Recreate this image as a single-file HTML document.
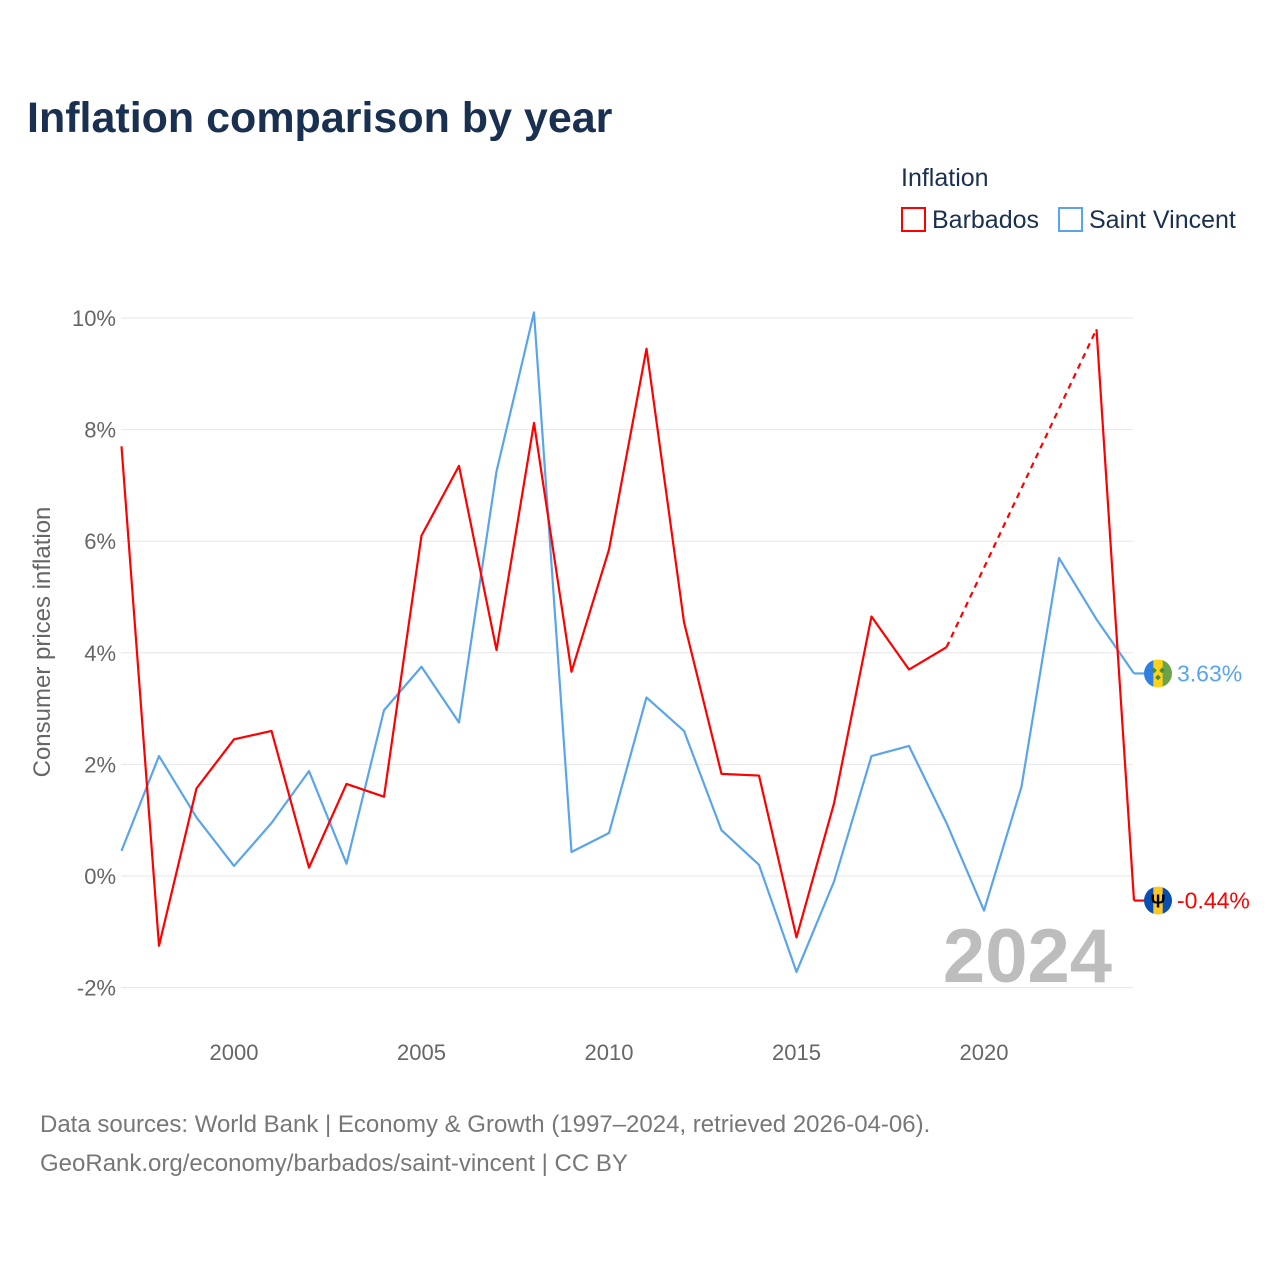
<!DOCTYPE html>
<html><head><meta charset="utf-8"><style>
body{margin:0;background:#fff;font-family:"Liberation Sans",sans-serif;}
#wrap{position:relative;width:1280px;height:1280px;overflow:hidden;}
</style></head><body>
<div id="wrap">
<svg id="svg" width="1280" height="1280" xmlns="http://www.w3.org/2000/svg">
<text x="27" y="132" font-size="43" font-weight="bold" fill="#1a3050">Inflation comparison by year</text>
<text x="901" y="186" font-size="25" fill="#1a3050">Inflation</text>
<g><rect x="902" y="208" width="23" height="23" fill="none" stroke="#f00" stroke-width="2"/><text x="932" y="228" font-size="25" fill="#1a3050">Barbados</text></g>
<g><rect x="1059" y="208" width="23" height="23" fill="none" stroke="#5aa5ea" stroke-width="2"/><text x="1089" y="228" font-size="25" fill="#1a3050">Saint Vincent</text></g>
<g id="grid"></g>
<g id="yticks"></g>
<g id="xticks"></g>
<text transform="translate(50,642) rotate(-90)" text-anchor="middle" font-size="24" fill="#666">Consumer prices inflation</text>
<text x="1112" y="982" text-anchor="end" font-size="76" font-weight="bold" fill="#bdbdbd">2024</text>
<g id="series"></g>
<g id="ends"></g>
<text x="40" y="1132" font-size="24" fill="#777">Data sources: World Bank | Economy &amp; Growth (1997–2024, retrieved 2026-04-06).</text>
<text x="40" y="1171" font-size="24" fill="#777">GeoRank.org/economy/barbados/saint-vincent | CC BY</text>
</svg></div>
<script>
const years=[1997,1998,1999,2000,2001,2002,2003,2004,2005,2006,2007,2008,2009,2010,2011,2012,2013,2014,2015,2016,2017,2018,2019,2020,2021,2022,2023,2024];
const barbados=[7.7,-1.25,1.57,2.45,2.6,0.15,1.65,1.42,6.1,7.35,4.05,8.12,3.66,5.85,9.45,4.55,1.83,1.8,-1.1,1.3,4.65,3.7,4.1,null,null,null,9.8,-0.44];
const saintVincent=[0.45,2.15,1.05,0.18,0.95,1.88,0.22,2.97,3.75,2.75,7.25,10.1,0.43,0.77,3.2,2.6,0.82,0.2,-1.72,-0.1,2.15,2.33,0.95,-0.62,1.6,5.7,4.6,3.63];
const yTicks=[-2,0,2,4,6,8,10];
const xTicks=[2000,2005,2010,2015,2020];
const NS="http://www.w3.org/2000/svg";
const X=y=>121.5+(y-1997)*37.5, Y=v=>876-v*55.8;
function mk(t,a,p){const e=document.createElementNS(NS,t);for(const k in a)e.setAttribute(k,a[k]);p.appendChild(e);return e;}
const grid=document.getElementById('grid'),yt=document.getElementById('yticks'),xt=document.getElementById('xticks');
yTicks.forEach(v=>{
 const l=mk('line',{x1:121,x2:1133,y1:Y(v),y2:Y(v),stroke:'#e6e6e6','stroke-width':1},grid);
 
 
 const t=mk('text',{x:116,y:Y(v)+8,'text-anchor':'end','font-size':22,fill:'#666'},yt);t.textContent=v+'%';
 
 
});
xTicks.forEach(v=>{
 const t=mk('text',{x:X(v),y:1060,'text-anchor':'middle','font-size':22,fill:'#666'},xt);t.textContent=v;
 
 
});
const sg=document.getElementById('series');
function draw(vals,color,name){
 let segs=[],cur=[];
 vals.forEach((v,i)=>{if(v===null){if(cur.length)segs.push(cur);cur=[];}else cur.push([X(years[i]),Y(v)]);});
 if(cur.length)segs.push(cur);
 segs.forEach((s,k)=>{
  const p=mk('polyline',{points:s.map(q=>q.join(',')).join(' '),fill:'none',stroke:color,'stroke-width':2.2,'stroke-linejoin':'round'},sg);
  
  
  if(k>0){const a=segs[k-1][segs[k-1].length-1],b=s[0];
   const d=mk('line',{x1:a[0],y1:a[1],x2:b[0],y2:b[1],stroke:color,'stroke-width':2.2,'stroke-dasharray':'6,5'},sg);
   
   }
 });
}
draw(saintVincent,'#5aa5ea','saint-vincent');
draw(barbados,'#f00','barbados');
const eg=document.getElementById('ends');
function end(v,color,name,flag){
 const y=Y(v),x=X(2024);
 const l=mk('line',{x1:x,x2:1146,y1:y,y2:y,stroke:color,'stroke-width':2.2},eg);
 
 
 const g=mk('g',{},eg);
 
 
 mk('clipPath',{id:'c'+name},g).appendChild(document.createElementNS(NS,'circle'));
 const c=g.querySelector('circle');c.setAttribute('cx',1158);c.setAttribute('cy',y);c.setAttribute('r',14);
 const cols=flag;
 cols.forEach((col,i)=>mk('rect',{x:1144+i*9.33,y:y-14,width:9.5,height:28,fill:col,'clip-path':'url(#c'+name+')'},g));
 if(name==='barbados'){const t=mk('text',{x:1158,y:y+7,'text-anchor':'middle','font-size':18,'font-weight':'bold',fill:'#000'},g);t.textContent='Ψ';}
 else{[[-4,-3],[4,-3],[0,4]].forEach(d=>mk('rect',{x:1158+d[0]-2,y:y+d[1]-2,width:4,height:4,fill:'#4a8a3a',transform:`rotate(45 ${1158+d[0]} ${y+d[1]})`},g));}
 const t=mk('text',{x:1177,y:y+8,'font-size':23,fill:color},eg);t.textContent=v.toFixed(2)+'%';
 
 
}
end(saintVincent[saintVincent.length-1],'#5aa5ea','saint-vincent',['#2f7fe0','#fcd116','#6aa34a']);
end(barbados[barbados.length-1],'#f00','barbados',['#0a4fb0','#ffc726','#0a4fb0']);
</script>
</body></html>
